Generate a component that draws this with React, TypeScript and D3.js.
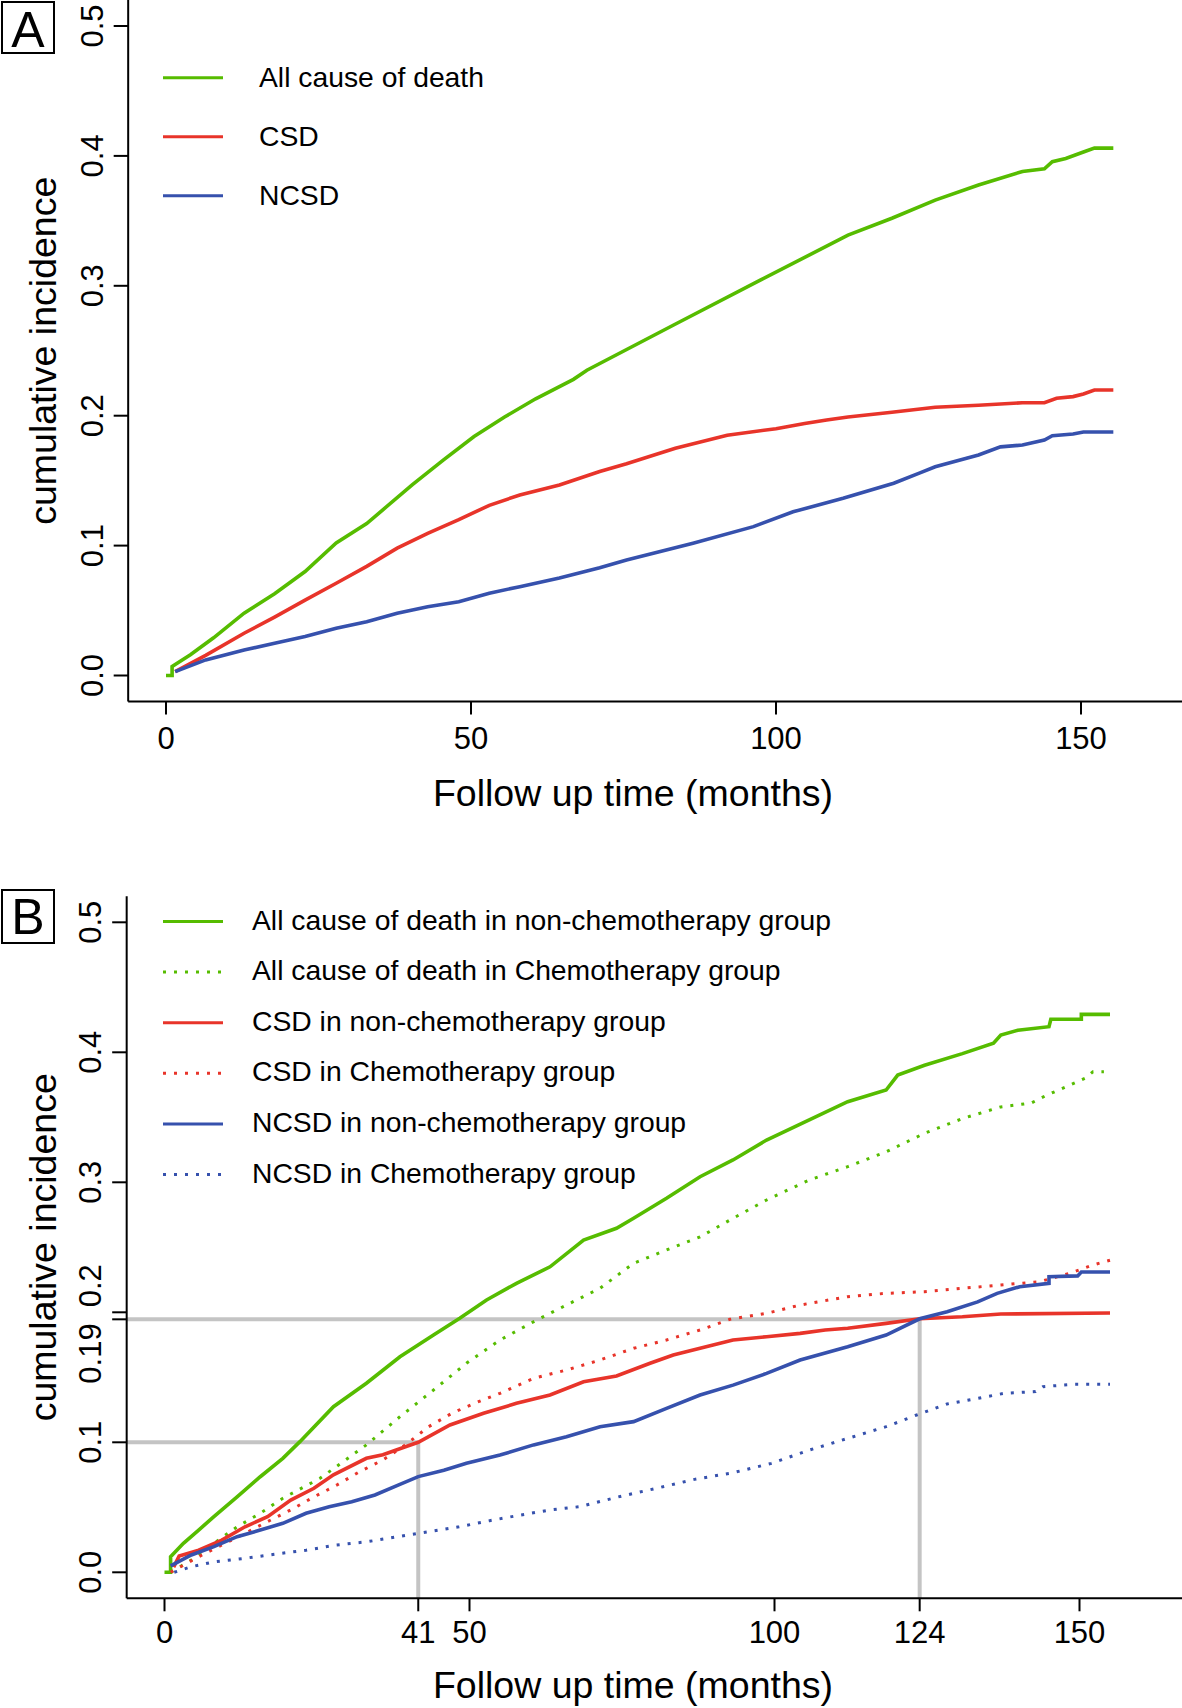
import React from "react";
import * as d3 from "d3";

// ---------- data ----------
// Panel A
const allCauseA: [number, number][] = [
  [0, 0], [1, 0], [1, 0.007], [4, 0.016], [7.8, 0.029], [12.8, 0.048], [17.8, 0.063], [22.8, 0.08],
  [27.9, 0.102], [32.9, 0.117], [35.4, 0.127], [40.4, 0.147], [45.5, 0.166], [50.5, 0.184],
  [55.5, 0.199], [60.6, 0.213], [66.8, 0.228], [69, 0.235], [83.3, 0.27], [97.5, 0.3045],
  [111.8, 0.339], [119, 0.352], [126.1, 0.366], [133.2, 0.3776], [140.4, 0.388], [144, 0.39],
  [145.3, 0.3955], [147.5, 0.398], [150.4, 0.403], [152.2, 0.406], [155.3, 0.406],
];
const csdA: [number, number][] = [
  [1.5, 0.003], [6.5, 0.0155], [12.8, 0.0325], [17.8, 0.045], [22.8, 0.058], [27.9, 0.071],
  [32.9, 0.084], [37.9, 0.098], [42.9, 0.1095], [48, 0.12], [53, 0.131], [58, 0.139],
  [64.5, 0.1467], [71.1, 0.157], [75.5, 0.163], [83.5, 0.175], [92, 0.185], [100, 0.19],
  [104.7, 0.194], [108.3, 0.1967], [111.8, 0.199], [119, 0.2026], [126.1, 0.2065], [133.2, 0.208],
  [140.4, 0.21], [144, 0.21], [146, 0.2134], [148.7, 0.2147], [150.4, 0.2167], [152.2, 0.2198],
  [155.3, 0.2198],
];
const ncsdA: [number, number][] = [
  [1.5, 0.003], [6.5, 0.012], [12.8, 0.0196], [17.8, 0.0248], [22.8, 0.03], [27.9, 0.0363],
  [32.9, 0.0414], [37.9, 0.0479], [42.9, 0.053], [48, 0.0568], [53, 0.0633], [58, 0.0684],
  [64.5, 0.075], [71.1, 0.083], [75.5, 0.0889], [86.4, 0.1018], [96.3, 0.1146], [102.8, 0.126],
  [111, 0.1364], [119.3, 0.148], [123.6, 0.156], [126.1, 0.1607], [133.2, 0.1697], [136.8, 0.176],
  [140.4, 0.1774], [144, 0.1813], [145.3, 0.1846], [148.7, 0.1859], [150.4, 0.1874], [155.3, 0.1874],
];

// Panel B
const allCauseNonChemo: [number, number][] = [
  [0, 0], [1, 0], [1, 0.012], [3.1, 0.0223], [5.6, 0.0325], [8.1, 0.0428], [11.9, 0.058],
  [15.7, 0.0735], [19.4, 0.0877], [22.2, 0.1005], [27.7, 0.1274], [33.1, 0.1454], [38.6, 0.1658],
  [44.1, 0.1825], [48.4, 0.1954], [52.8, 0.2095], [57.7, 0.2223], [63.2, 0.235], [68.7, 0.2556],
  [74.1, 0.2646], [76.9, 0.2723], [82.3, 0.2877], [87.8, 0.3043], [93.2, 0.3172], [98.7, 0.3325],
  [105.7, 0.348], [112, 0.362], [118.3, 0.371], [120.2, 0.3825], [124.6, 0.39], [130.8, 0.399],
  [135.9, 0.407], [137.1, 0.4133], [139.9, 0.417], [145, 0.4197], [145.3, 0.4254], [150.3, 0.4254],
  [150.3, 0.4292], [155, 0.4292],
];
const allCauseChemo: [number, number][] = [
  [1, 0], [4.4, 0.0095], [8.1, 0.0223], [11.9, 0.035], [15.7, 0.0454], [19.4, 0.057],
  [25.5, 0.0723], [33.1, 0.098], [38.6, 0.1197], [44.1, 0.1402], [49.5, 0.1608], [55, 0.1787],
  [61, 0.194], [65.9, 0.2056], [71.4, 0.2185], [76.9, 0.2377], [82.3, 0.248], [87.8, 0.258],
  [93.2, 0.2723], [98.7, 0.2864], [105.7, 0.3018], [112, 0.312], [118.3, 0.3235], [124.6, 0.3377],
  [130.8, 0.349], [137.1, 0.358], [142.1, 0.361], [144.6, 0.367], [147.1, 0.372], [150.9, 0.38],
  [152.2, 0.385], [154, 0.385],
];
const csdNonChemo: [number, number][] = [
  [1.5, 0.004], [2.4, 0.0125], [5.6, 0.017], [9.4, 0.0248], [13.2, 0.035], [16.9, 0.0428],
  [20.7, 0.0556], [24.5, 0.0646], [27.7, 0.075], [33.1, 0.0877], [35.8, 0.0905], [39.5, 0.0966],
  [41.6, 0.1], [46.8, 0.1133], [52.3, 0.1223], [57.7, 0.13], [63.2, 0.1364], [68.7, 0.1466],
  [74.1, 0.151], [79.6, 0.1608], [83.4, 0.1672], [87.8, 0.1723], [93.2, 0.1787], [98.7, 0.1812],
  [104.2, 0.1838], [108.3, 0.1864], [112, 0.1877], [118.3, 0.1915], [123.8, 0.195], [130.8, 0.1966],
  [137.1, 0.1987], [155, 0.1995],
];
const csdChemo: [number, number][] = [
  [1, 0], [5.6, 0.012], [9.4, 0.021], [13.2, 0.03], [16.9, 0.039], [20.7, 0.048], [24.5, 0.058],
  [28.2, 0.067], [32, 0.0774], [35.8, 0.0864], [39.5, 0.098], [43.3, 0.112], [47.1, 0.1223],
  [50.8, 0.13], [55, 0.1377], [60.5, 0.1492], [65.9, 0.1556], [71.4, 0.1633], [76.9, 0.1723],
  [82.3, 0.1787], [87.8, 0.1864], [92.7, 0.1946], [98.7, 0.1992], [104.2, 0.2056], [112, 0.212],
  [118.3, 0.2146], [124.6, 0.2158], [130.8, 0.2185], [137.1, 0.221], [143.4, 0.2235], [148.4, 0.23],
  [152.2, 0.2364], [155, 0.24],
];
const ncsdNonChemo: [number, number][] = [
  [1, 0.005], [4.4, 0.0133], [8.1, 0.0197], [11.9, 0.0274], [15.7, 0.0325], [19.4, 0.0377],
  [23.2, 0.0454], [27, 0.0505], [30.7, 0.0543], [34.5, 0.0595], [38.3, 0.067], [41.6, 0.0736],
  [45.8, 0.0785], [49.5, 0.0838], [55, 0.0902], [60.5, 0.098], [65.9, 0.1043], [71.4, 0.112],
  [76.9, 0.1159], [82.3, 0.1261], [87.8, 0.1364], [93.2, 0.144], [98.7, 0.153], [104.2, 0.1633],
  [112, 0.1735], [118.3, 0.1825], [123.8, 0.195], [128.3, 0.2005], [133.3, 0.208], [136.5, 0.2146],
  [140.2, 0.2197], [145, 0.2223], [145, 0.2274], [149.7, 0.228], [150.3, 0.231], [155, 0.231],
];
const ncsdChemo: [number, number][] = [
  [1.6, 0], [4.4, 0.0043], [8.1, 0.008], [13.2, 0.0108], [18.2, 0.014], [23.2, 0.017],
  [28.2, 0.021], [33.2, 0.0235], [38.3, 0.0274], [43.3, 0.0312], [48.3, 0.035], [53.3, 0.0397],
  [58.3, 0.044], [63.3, 0.048], [68.1, 0.0505], [74.4, 0.058], [80.6, 0.0646], [86.9, 0.0715],
  [93.2, 0.0766], [99.5, 0.0838], [105.7, 0.094], [112, 0.103], [118.3, 0.112], [123.3, 0.121],
  [128.3, 0.1295], [133.3, 0.1338], [137.7, 0.1377], [142.8, 0.139], [144, 0.1428], [149, 0.1446],
  [155, 0.1446],
];

// ticks / labels
const xTicksA = [0, 50, 100, 150];
const xTickLabelsA = ["0", "50", "100", "150"];
const xTicksB = [0, 41.6, 50, 100, 123.8, 150];
const xTickLabelsB = ["0", "41", "50", "100", "124", "150"];
const yTicksA = [0, 0.1, 0.2, 0.3, 0.4, 0.5];
const yTickLabelsA = ["0.0", "0.1", "0.2", "0.3", "0.4", "0.5"];
const yTicksB = [0, 0.1, 0.1946, 0.2, 0.3, 0.4, 0.5];
const yTickLabelsB = ["0.0", "0.1", "0.19", "0.2", "0.3", "0.4", "0.5"];
const refPoints: [number, number][] = [
  [41.6, 0.1],
  [123.8, 0.1946],
];

const legendLabelsA = ["All cause of death", "CSD", "NCSD"];
const legendLabelsB = [
  "All cause of death in non-chemotherapy group",
  "All cause of death in Chemotherapy group",
  "CSD in non-chemotherapy group",
  "CSD in Chemotherapy group",
  "NCSD in non-chemotherapy group",
  "NCSD in Chemotherapy group",
];
const xTitle = "Follow up time (months)";
const yTitle = "cumulative incidence";

// ---------- styles ----------
const GREEN = "#56BC00";
const RED = "#E8342A";
const BLUE = "#3651AD";
const GRAY = "#C4C4C4";
const FONT = "'Liberation Sans', Arial, Helvetica, sans-serif";
const DOT = "3 8";

const seriesA = [
  { data: allCauseA, color: GREEN, dotted: false },
  { data: csdA, color: RED, dotted: false },
  { data: ncsdA, color: BLUE, dotted: false },
];
const seriesB = [
  { data: allCauseNonChemo, color: GREEN, dotted: false },
  { data: allCauseChemo, color: GREEN, dotted: true },
  { data: csdNonChemo, color: RED, dotted: false },
  { data: csdChemo, color: RED, dotted: true },
  { data: ncsdNonChemo, color: BLUE, dotted: false },
  { data: ncsdChemo, color: BLUE, dotted: true },
];

type Panel = {
  x: d3.ScaleLinear<number, number>;
  y: d3.ScaleLinear<number, number>;
};

function Axes({
  x,
  y,
  xTicks,
  xLabels,
  yTicks,
  yLabels,
  tickBaseline,
  titleBaseline,
  yLabelAnchor,
}: Panel & {
  xTicks: number[];
  xLabels: string[];
  yTicks: number[];
  yLabels: string[];
  tickBaseline: number;
  titleBaseline: number;
  yLabelAnchor?: (i: number) => { anchor: string; dy: number };
}) {
  const axX = x(-6.2);
  const axY = y(-0.02);
  const top = y(0.52);
  const cy = (axY + top) / 2;
  return (
    <g fontFamily={FONT} fill="#000">
      <line x1={axX} x2={1182} y1={axY} y2={axY} stroke="#000" strokeWidth={2} />
      <line x1={axX} x2={axX} y1={top} y2={axY} stroke="#000" strokeWidth={2} />
      {xTicks.map((t, i) => (
        <g key={"xt" + t}>
          <line x1={x(t)} x2={x(t)} y1={axY} y2={axY + 13} stroke="#000" strokeWidth={2} />
          <text x={x(t)} y={tickBaseline} fontSize={31} textAnchor="middle">
            {xLabels[i]}
          </text>
        </g>
      ))}
      {yTicks.map((v, i) => {
        const a = yLabelAnchor ? yLabelAnchor(i) : { anchor: "middle", dy: 0 };
        return (
          <g key={"yt" + i}>
            <line x1={axX - 14.5} x2={axX} y1={y(v)} y2={y(v)} stroke="#000" strokeWidth={2} />
            <text
              transform={`translate(${axX - 25.5},${y(v) + a.dy}) rotate(-90)`}
              fontSize={31}
              textAnchor={a.anchor}
            >
              {yLabels[i]}
            </text>
          </g>
        );
      })}
      <text x={633} y={titleBaseline} fontSize={37.5} textAnchor="middle">
        {xTitle}
      </text>
      <text transform={`translate(56,${cy}) rotate(-90)`} fontSize={37.5} textAnchor="middle">
        {yTitle}
      </text>
    </g>
  );
}

function Curves({ x, y, series }: Panel & { series: { data: [number, number][]; color: string; dotted: boolean }[] }) {
  const line = d3
    .line<[number, number]>()
    .x((d) => x(d[0]))
    .y((d) => y(d[1]))
    .curve(d3.curveLinear);
  return (
    <g fill="none">
      {series.map((s, i) => (
        <path
          key={i}
          d={line(s.data) || ""}
          stroke={s.color}
          strokeWidth={s.dotted ? 3 : 3.6}
          strokeDasharray={s.dotted ? DOT : undefined}
          strokeLinejoin="miter"
        />
      ))}
    </g>
  );
}

export default function App() {
  const xA = d3.scaleLinear().domain([0, 150]).range([166, 1081]);
  const yA = d3.scaleLinear().domain([0, 0.5]).range([675.5, 26]);
  const xB = d3.scaleLinear().domain([0, 150]).range([164.5, 1079.5]);
  const yB = d3.scaleLinear().domain([0, 0.5]).range([1572.3, 922.3]);

  const legendRowsA = [77.7, 136.7, 195.7];
  const legendStartB = 921.5;
  const legendStepB = 50.6;

  return (
    <svg
      width={1182}
      height={1708}
      viewBox="0 0 1182 1708"
      style={{ position: "absolute", left: 0, top: 0, background: "#fff" }}
    >
      <rect x={0} y={0} width={1182} height={1708} fill="#fff" />

      {/* Panel A */}
      <rect x={2} y={2} width={52} height={51} fill="none" stroke="#000" strokeWidth={2} />
      <text x={28} y={47} fontSize={50} textAnchor="middle" fontFamily={FONT}>
        A
      </text>
      <Axes
        x={xA}
        y={yA}
        xTicks={xTicksA}
        xLabels={xTickLabelsA}
        yTicks={yTicksA}
        yLabels={yTickLabelsA}
        tickBaseline={749}
        titleBaseline={806}
      />
      <Curves x={xA} y={yA} series={seriesA} />
      <g fontFamily={FONT} fontSize={28.3}>
        {legendLabelsA.map((lab, i) => (
          <g key={lab}>
            <line x1={163} x2={223} y1={legendRowsA[i]} y2={legendRowsA[i]} stroke={seriesA[i].color} strokeWidth={3} />
            <text x={259} y={legendRowsA[i] + 9.5}>
              {lab}
            </text>
          </g>
        ))}
      </g>

      {/* Panel B */}
      <rect x={2} y={890} width={52} height={53} fill="none" stroke="#000" strokeWidth={2} />
      <text x={28} y={934} fontSize={50} textAnchor="middle" fontFamily={FONT}>
        B
      </text>
      {/* reference lines */}
      <g stroke={GRAY} strokeWidth={4}>
        {refPoints.map(([t, v]) => (
          <g key={"ref" + t}>
            <line x1={xB(-6.2)} x2={xB(t)} y1={yB(v)} y2={yB(v)} />
            <line x1={xB(t)} x2={xB(t)} y1={yB(v)} y2={yB(-0.02)} />
          </g>
        ))}
      </g>
      <Axes
        x={xB}
        y={yB}
        xTicks={xTicksB}
        xLabels={xTickLabelsB}
        yTicks={yTicksB}
        yLabels={yTickLabelsB}
        tickBaseline={1643}
        titleBaseline={1698}
        yLabelAnchor={(i) =>
          yTickLabelsB[i] === "0.19"
            ? { anchor: "end", dy: 4 }
            : yTickLabelsB[i] === "0.2"
            ? { anchor: "start", dy: -5 }
            : { anchor: "middle", dy: 0 }
        }
      />
      <Curves x={xB} y={yB} series={seriesB} />
      <g fontFamily={FONT} fontSize={28.3}>
        {legendLabelsB.map((lab, i) => {
          const ly = legendStartB + i * legendStepB;
          return (
            <g key={lab}>
              <line
                x1={163}
                x2={223}
                y1={ly}
                y2={ly}
                stroke={seriesB[i].color}
                strokeWidth={3}
                strokeDasharray={seriesB[i].dotted ? DOT : undefined}
              />
              <text x={252} y={ly + 8}>
                {lab}
              </text>
            </g>
          );
        })}
      </g>
    </svg>
  );
}
